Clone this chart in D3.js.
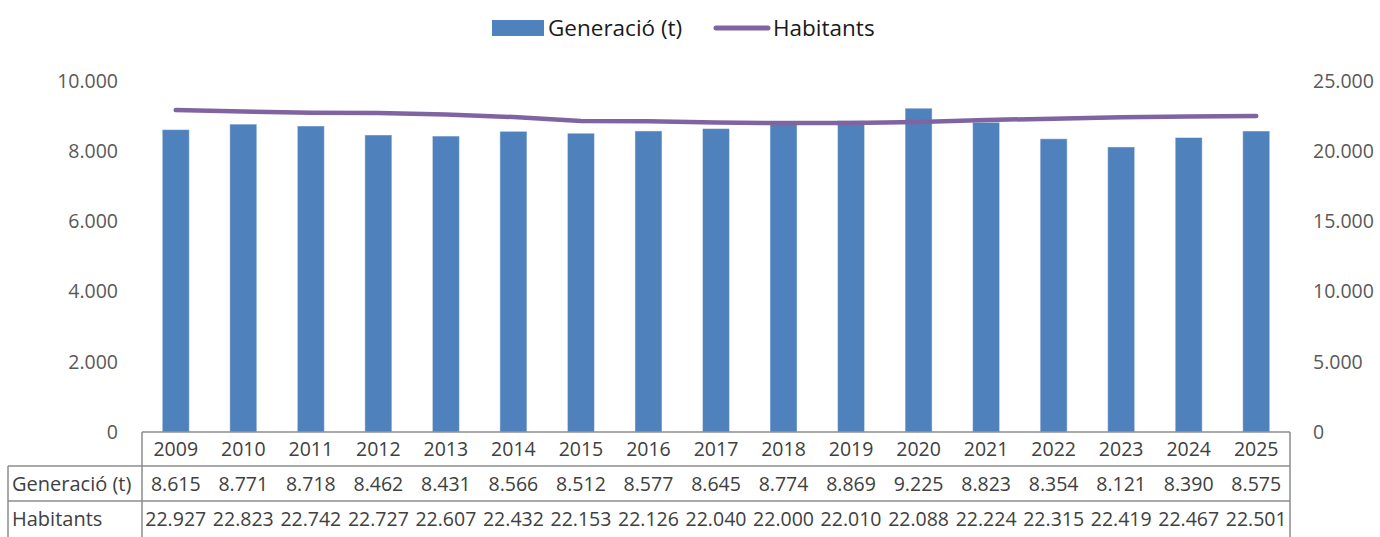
<!DOCTYPE html>
<html>
<head>
<meta charset="utf-8">
<script src="https://cdn.jsdelivr.net/npm/d3@7"></script>
<style>
	body { margin: 0; background: #fff; }
	text { font-family: "Open Sans", "Noto Sans", sans-serif; }
</style>
</head>
<body>
<div id="vis"></div>
<script>
const width = 1380;
const height = 537;

const years = ["2009", "2010", "2011", "2012", "2013", "2014", "2015", "2016", "2017", "2018", "2019", "2020", "2021", "2022", "2023", "2024", "2025"];
const generacio = [8615, 8771, 8718, 8462, 8431, 8566, 8512, 8577, 8645, 8774, 8869, 9225, 8823, 8354, 8121, 8390, 8575];
const habitants = [22927, 22823, 22742, 22727, 22607, 22432, 22153, 22126, 22040, 22000, 22010, 22088, 22224, 22315, 22419, 22467, 22501];
const leftTicks = [0, 2000, 4000, 6000, 8000, 10000];
const rightTicks = [0, 5000, 10000, 15000, 20000, 25000];
const seriesNames = ["Generació (t)", "Habitants"];

const barColor = "#4f81bd";
const lineColor = "#8064a2";
const tableColor = "#8c8c8c";

const plot = {left: 142, right: 1290, top: 81, bottom: 432};
const fmt = n => n === 0 ? "0" : d3.format(",")(n).replace(/,/g, ".");

const svg = d3.select("#vis")
	.append("svg")
	.attr("width", width)
	.attr("height", height);

const x = d3.scaleBand()
	.domain(years)
	.range([plot.left, plot.right])
	.paddingInner(0.6)
	.paddingOuter(0.3);

const xc = d3.scaleBand()
	.domain(years)
	.range([plot.left, plot.right]);

const yL = d3.scaleLinear().domain([0, 10000]).range([plot.bottom, plot.top]);
const yR = d3.scaleLinear().domain([0, 25000]).range([plot.bottom, plot.top]);

// axes, labels only
const axL = svg.append("g")
	.attr("transform", `translate(${plot.left - 24},0)`)
	.call(d3.axisLeft(yL).tickValues(leftTicks).tickFormat(fmt).tickSize(0).tickPadding(0));
const axR = svg.append("g")
	.attr("transform", `translate(${plot.right + 23},0)`)
	.call(d3.axisRight(yR).tickValues(rightTicks).tickFormat(fmt).tickSize(0).tickPadding(0));
[axL, axR].forEach(a => {
	a.select(".domain").remove();
	a.selectAll("text")
		.attr("fill", "#595959")
		.style("font-size", "19.5px")
		.style("font-family", "'Open Sans', 'Noto Sans', sans-serif");
});

// bars
svg.append("g")
	.selectAll("rect")
	.data(generacio)
	.enter()
	.append("rect")
		.attr("x", (d, i) => x(years[i]))
		.attr("y", d => yL(d))
		.attr("width", x.bandwidth())
		.attr("height", d => yL(0) - yL(d))
		.attr("fill", barColor)
		.attr("stroke", "rgba(255,255,255,0.45)")
		.attr("stroke-width", 1);

// line
const line = d3.line()
	.x((d, i) => xc(years[i]) + xc.bandwidth() / 2)
	.y(d => yR(d));

svg.append("path")
	.datum(habitants)
	.attr("d", line)
	.attr("fill", "none")
	.attr("stroke", lineColor)
	.attr("stroke-width", 4.5)
	.attr("stroke-linecap", "round")
	.attr("stroke-linejoin", "round");

// data table
const rowY = [plot.bottom, 466, 501, 537];
const tableLeft = 8;
const tg = svg.append("g");

tg.append("line").attr("x1", plot.left).attr("x2", plot.right).attr("y1", rowY[0]).attr("y2", rowY[0]);
tg.append("line").attr("x1", tableLeft).attr("x2", plot.right).attr("y1", rowY[1]).attr("y2", rowY[1]);
tg.append("line").attr("x1", tableLeft).attr("x2", plot.right).attr("y1", rowY[2]).attr("y2", rowY[2]);
tg.append("line").attr("x1", plot.left).attr("x2", plot.left).attr("y1", rowY[0]).attr("y2", height);
tg.append("line").attr("x1", plot.right).attr("x2", plot.right).attr("y1", rowY[0]).attr("y2", height);
tg.append("line").attr("x1", tableLeft).attr("x2", tableLeft).attr("y1", rowY[1]).attr("y2", height);
tg.selectAll("line").attr("stroke", tableColor).attr("stroke-width", 1.5);

const rows = [years, generacio.map(fmt), habitants.map(fmt)];
rows.forEach((vals, r) => {
	tg.append("g")
		.selectAll("text")
		.data(vals)
		.enter()
		.append("text")
			.attr("x", (d, i) => xc(years[i]) + xc.bandwidth() / 2)
			.attr("y", (rowY[r] + rowY[r + 1]) / 2 + 7)
			.attr("text-anchor", "middle")
			.attr("fill", "#404040")
			.style("font-size", "19.5px")
			.text(d => d);
});

tg.selectAll("text.rowlabel")
	.data(seriesNames)
	.enter()
	.append("text")
		.classed("rowlabel", true)
		.attr("x", tableLeft + 4)
		.attr("y", (d, i) => (rowY[i + 1] + rowY[i + 2]) / 2 + 7)
		.attr("fill", "#404040")
		.style("font-size", "20px")
		.text(d => d);

// legend
const lg = svg.append("g");
lg.append("rect")
	.attr("x", 492).attr("y", 20).attr("width", 52).attr("height", 16)
	.attr("fill", barColor);
lg.append("text")
	.attr("x", 548).attr("y", 36)
	.attr("fill", "#1a1a1a")
	.style("font-size", "22.5px")
	.text(seriesNames[0]);
lg.append("line")
	.attr("x1", 716).attr("x2", 768).attr("y1", 28).attr("y2", 28)
	.attr("stroke", lineColor).attr("stroke-width", 5).attr("stroke-linecap", "round");
lg.append("text")
	.attr("x", 773).attr("y", 36)
	.attr("fill", "#1a1a1a")
	.style("font-size", "22.5px")
	.text(seriesNames[1]);
</script>
</body>
</html>
